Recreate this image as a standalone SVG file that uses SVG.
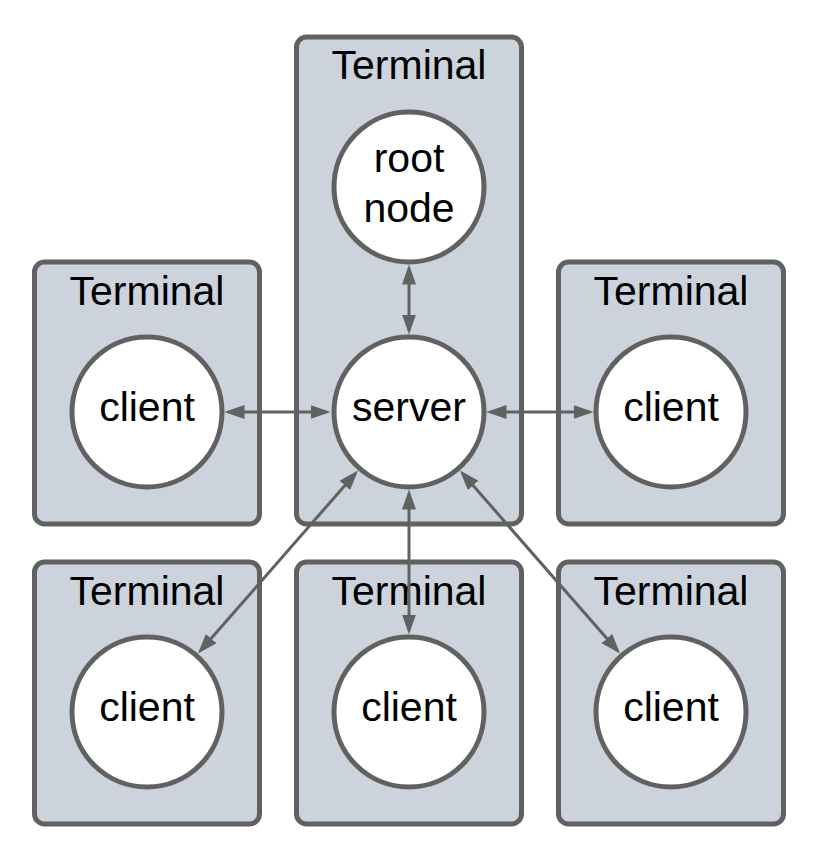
<svg xmlns="http://www.w3.org/2000/svg" width="818" height="857" viewBox="0 0 818 857">
<style>
.term{fill:#cdd3dc;stroke:#616161;stroke-width:5}
.node{fill:#ffffff;stroke:#616161;stroke-width:5}
.lbl{font-family:"Liberation Sans",Arial,sans-serif;font-size:41px;fill:#000;text-anchor:middle}
.edge{stroke:#616161;stroke-width:3;fill:none;marker-start:url(#ah);marker-end:url(#ah)}
</style>
<defs>
<marker id="ah" viewBox="0 0 20 14" refX="16" refY="7" markerWidth="20" markerHeight="14" markerUnits="userSpaceOnUse" orient="auto-start-reverse">
<path d="M0,0 L20,7 L0,14 z" fill="#616161"/>
</marker>
</defs>
<rect width="818" height="857" fill="#ffffff"/>
<g id="terminal-center"><rect class="term" x="296.5" y="37" width="225" height="487" rx="10"/><text class="lbl" x="409" y="79">Terminal</text></g>
<g id="terminal-left"><rect class="term" x="34.5" y="262" width="225" height="262" rx="10"/><text class="lbl" x="147" y="305">Terminal</text></g>
<g id="terminal-right"><rect class="term" x="558.5" y="262" width="225" height="262" rx="10"/><text class="lbl" x="671" y="305">Terminal</text></g>
<g id="terminal-bl"><rect class="term" x="34.5" y="562" width="225" height="262" rx="10"/><text class="lbl" x="147" y="605">Terminal</text></g>
<g id="terminal-bc"><rect class="term" x="296.5" y="562" width="225" height="262" rx="10"/><text class="lbl" x="409" y="605">Terminal</text></g>
<g id="terminal-br"><rect class="term" x="558.5" y="562" width="225" height="262" rx="10"/><text class="lbl" x="671" y="605">Terminal</text></g>
<g id="connectors">
<line class="edge" x1="409" y1="268.5" x2="409" y2="330.5"/>
<line class="edge" x1="228.5" y1="412" x2="326.5" y2="412"/>
<line class="edge" x1="490.5" y1="412" x2="589.5" y2="412"/>
<line class="edge" x1="409" y1="493.5" x2="409" y2="630.5"/>
<line class="edge" x1="355.4" y1="473.4" x2="200.6" y2="650.6"/>
<line class="edge" x1="462.6" y1="473.4" x2="617.4" y2="650.6"/>
</g>
<g id="root-node"><circle class="node" cx="409" cy="187" r="75"/><text class="lbl" x="409" y="172">root</text><text class="lbl" x="409" y="222">node</text></g>
<g id="server"><circle class="node" cx="409" cy="412" r="75"/><text class="lbl" x="409" y="421">server</text></g>
<g id="client-left"><circle class="node" cx="147" cy="412" r="75"/><text class="lbl" x="147" y="421">client</text></g>
<g id="client-right"><circle class="node" cx="671" cy="412" r="75"/><text class="lbl" x="671" y="421">client</text></g>
<g id="client-bl"><circle class="node" cx="147" cy="712" r="75"/><text class="lbl" x="147" y="721">client</text></g>
<g id="client-bc"><circle class="node" cx="409" cy="712" r="75"/><text class="lbl" x="409" y="721">client</text></g>
<g id="client-br"><circle class="node" cx="671" cy="712" r="75"/><text class="lbl" x="671" y="721">client</text></g>
</svg>
